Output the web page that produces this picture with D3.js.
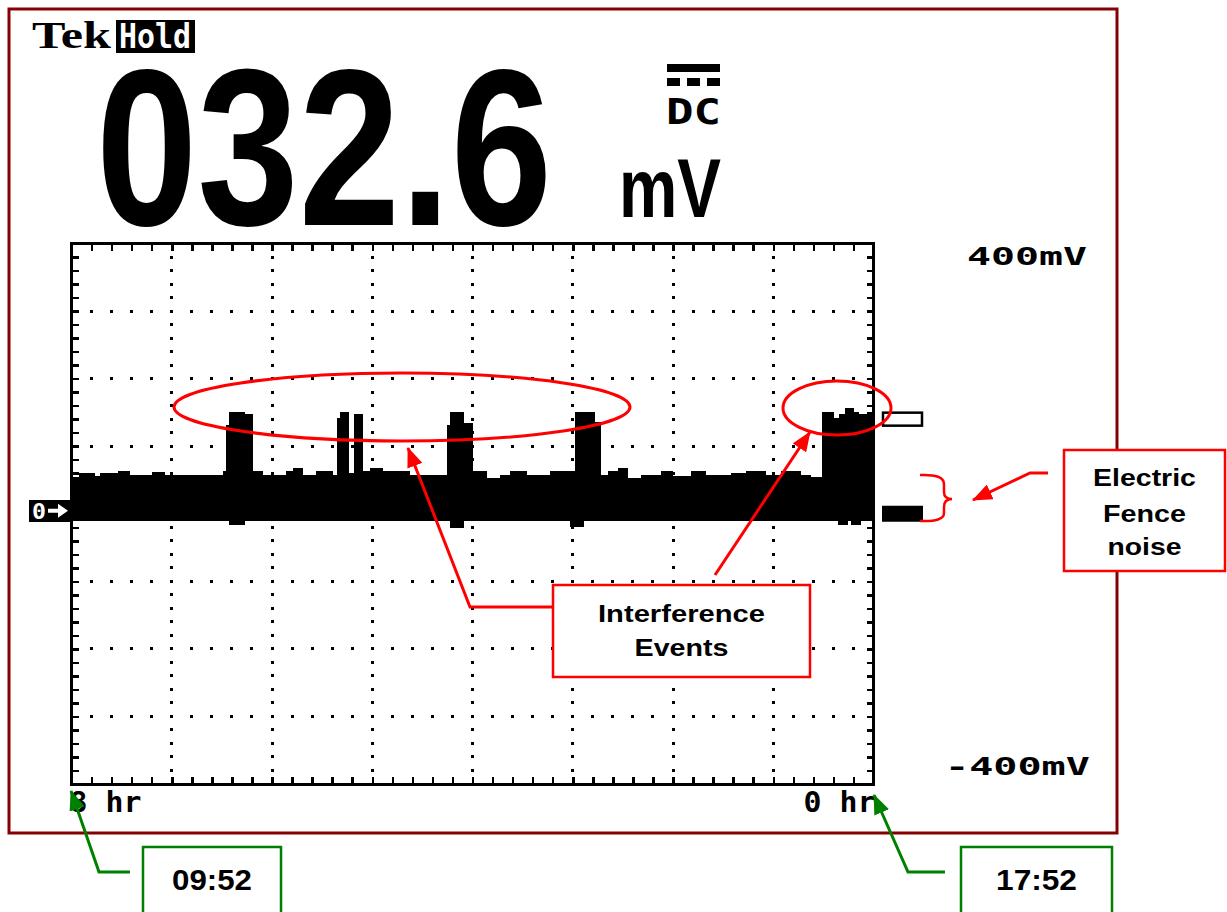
<!DOCTYPE html>
<html><head><meta charset="utf-8">
<script src="https://cdn.jsdelivr.net/npm/d3@7"></script>
<style>body{margin:0;background:#fff}svg{display:block}</style>
</head><body>
<svg id="c" width="1227" height="912"></svg>
<script>
// ---------- data ----------
// min/max envelope of the 8 hour roll record (hours before end, step segments)
const segStartHr = [8.000,7.925,7.767,7.717,7.537,7.417,7.198,7.068,6.718,6.488,6.458,6.428,6.269,6.189,6.089,5.859,5.789,5.689,5.559,5.390,5.353,5.320,5.227,5.187,5.093,5.020,4.890,4.620,4.254,4.221,4.088,3.994,3.851,3.721,3.621,3.452,3.222,3.032,2.982,2.892,2.782,2.722,2.652,2.552,2.453,2.323,2.123,2.003,1.823,1.673,1.424,1.274,1.074,0.924,0.724,0.624,0.517,0.395,0.358,0.345,0.285,0.258,0.225,0.195,0.145,0.125,0.065];
const segMaxMv   = [55,61,56,61,64,58,62,57,58,63,132,151,147,63,58,63,67,58,63,58,141,151,61,147,63,67,63,58,132,151,134,63,53,58,63,58,63,63,151,151,136,58,63,67,53,58,63,56,64,57,60,64,57,63,58,55,151,142,142,147,156,156,156,150,147,147,151];
const segMinMv   = [-11,-11,-11,-11,-11,-11,-11,-11,-11,-11,-11,-17,-11,-11,-11,-11,-11,-11,-11,-11,-11,-11,-11,-11,-11,-11,-11,-11,-11,-21,-11,-11,-11,-11,-11,-11,-11,-20,-20,-11,-11,-11,-11,-11,-11,-11,-11,-11,-11,-11,-11,-11,-11,-11,-11,-11,-11,-11,-16,-16,-16,-11,-16,-16,-16,-11,-11];
const xTickValues = [8, 0];
const xTickLabels = ["8 hr", "0 hr"];
const yTickValues = [400, -400];
const yTickLabels = ["400mV", "-400mV"];
const readingText = "032.6";
const readingUnit = "mV";
const couplingText = "DC";
const brandText = "Tek";
const holdText = "Hold";
const groundLevelMv = 0;
const cursorLevelMv = 140;
const startClock = "09:52";
const endClock = "17:52";
const eventLines = ["Interference", "Events"];
const noiseLines = ["Electric", "Fence", "noise"];

// ---------- setup ----------
const svg = d3.select("#c");
const x = d3.scaleLinear().domain([8, 0]).range([71.5, 873.5]);
const y = d3.scaleLinear().domain([-400, 400]).range([784, 243.5]);
const RED = "#ff0000", GREEN = "#008000", MAROON = "#850000";
const MONO = "'DejaVu Sans Mono', monospace";
const SANS = "'Liberation Sans', Arial, sans-serif";

// text scaled horizontally to a target ink width (anchor: start | middle | end)
function stext(parent, t, xx, yy, font, size, targetW, anchor, fill) {
  const el = parent.append("text").attr("font-family", font).attr("font-weight", "bold")
    .attr("font-size", size).attr("fill", fill || "#000").attr("text-anchor", anchor || "start").text(t);
  const w = el.node().getComputedTextLength() || targetW;
  el.attr("transform", `translate(${xx},${yy}) scale(${targetW / w},1)`);
  return el;
}

const defs = svg.append("defs");
function mkArrow(id, col) {
  defs.append("marker").attr("id", id).attr("markerUnits", "userSpaceOnUse")
    .attr("viewBox", "0 0 20 16").attr("refX", 19).attr("refY", 8)
    .attr("markerWidth", 20).attr("markerHeight", 16).attr("orient", "auto")
    .append("path").attr("d", "M0,0 L20,8 L0,16 Z").attr("fill", col);
}
mkArrow("ar", RED); mkArrow("ag", GREEN);

// outer frame
svg.append("rect").attr("x", 9).attr("y", 9).attr("width", 1108).attr("height", 824)
  .attr("fill", "none").attr("stroke", MAROON).attr("stroke-width", 3);

// header
stext(svg, brandText, 32, 47.5, "'Liberation Serif', serif", 37, 79, "start");
svg.append("rect").attr("x", 116).attr("y", 20).attr("width", 79).attr("height", 33).attr("fill", "#000");
stext(svg, holdText, 119, 47.5, MONO, 34, 72, "start", "#fff");

stext(svg, readingText, 96, 225, SANS, 222, 456, "start");
stext(svg, readingUnit, 619, 217, SANS, 84, 102, "start");
// DC coupling symbol
svg.append("rect").attr("x", 667).attr("y", 64).attr("width", 53).attr("height", 8).attr("fill", "#000");
[[667, 13], [687, 13], [707, 13]].forEach(d =>
  svg.append("rect").attr("x", d[0]).attr("y", 78).attr("width", d[1]).attr("height", 8).attr("fill", "#000"));
stext(svg, couplingText, 666, 123.5, MONO, 36, 55, "start");

// ---------- graticule ----------
const g = svg.append("g").attr("shape-rendering", "crispEdges");
const majX = d3.range(1, 8);
const majY = d3.range(-300, 400, 100);
const minX = d3.range(0, 40).map(i => +(i * 0.2).toFixed(1));
const minY = d3.range(-400, 401, 20);
majY.forEach(mv => minX.forEach(h =>
  g.append("rect").attr("x", x(h) - 1.5).attr("y", y(mv) - 1.5).attr("width", 3).attr("height", 3).attr("fill", "#000")));
majX.forEach(h => minY.forEach(mv =>
  g.append("rect").attr("x", x(h) - 1.5).attr("y", y(mv) - 1.5).attr("width", 3).attr("height", 3).attr("fill", "#000")));

function tickAxis(axis, tr) {
  const a = g.append("g").attr("transform", tr).call(axis);
  a.select(".domain").remove();
  a.selectAll("line").attr("stroke", "#000").attr("stroke-width", 2.5);
}
tickAxis(d3.axisBottom(x).tickValues(minX).tickSize(-7).tickFormat(""), `translate(0,${y(-400)})`);
tickAxis(d3.axisTop(x).tickValues(minX).tickSize(-7).tickFormat(""), `translate(0,${y(400)})`);
tickAxis(d3.axisLeft(y).tickValues(minY).tickSize(-7).tickFormat(""), `translate(${x(8)},0)`);
tickAxis(d3.axisRight(y).tickValues(minY).tickSize(-7).tickFormat(""), `translate(${x(0)},0)`);

// ---------- trace ----------
const pts = segStartHr.map((h, i) => ({h, hi: segMaxMv[i], lo: segMinMv[i]}));
pts.push({h: 0, hi: segMaxMv[segMaxMv.length - 1], lo: segMinMv[segMinMv.length - 1]});
const area = d3.area().x(d => x(d.h)).y0(d => y(d.lo)).y1(d => y(d.hi)).curve(d3.curveStepAfter);
g.append("path").datum(pts).attr("d", area).attr("fill", "#000");

g.append("rect").attr("x", x(8)).attr("y", y(400)).attr("width", x(0) - x(8)).attr("height", y(-400) - y(400))
  .attr("fill", "none").attr("stroke", "#000").attr("stroke-width", 3);

// ground marker (left)
const gy = y(groundLevelMv);
svg.append("rect").attr("x", 29).attr("y", gy - 14).attr("width", 41).attr("height", 22).attr("fill", "#000").attr("shape-rendering", "crispEdges");
stext(svg, "0", 32, gy + 5, MONO, 21, 14, "start", "#fff");
svg.append("path").attr("d", `M48,${gy - 5} H58 V${gy - 10} L68,${gy - 3} L58,${gy + 4} V${gy - 1} H48 Z`).attr("fill", "#fff");

// right level markers
svg.append("rect").attr("x", 882).attr("y", y(groundLevelMv) - 8).attr("width", 41).attr("height", 16).attr("fill", "#000");
svg.append("rect").attr("x", 883).attr("y", y(cursorLevelMv) - 6.5).attr("width", 39).attr("height", 13)
  .attr("fill", "none").attr("stroke", "#000").attr("stroke-width", 2.5);

// scale labels
stext(svg, yTickLabels[0], 967, y(yTickValues[0]) + 21.5, MONO, 24, 120, "start");
stext(svg, yTickLabels[1], 945, y(yTickValues[1]) - 9, MONO, 24, 145, "start");
stext(svg, xTickLabels[0], x(xTickValues[0]) - 2, 811.5, MONO, 29, 72, "start");
stext(svg, xTickLabels[1], x(xTickValues[1]) + 2, 811.5, MONO, 29, 72, "end");

// ---------- annotations ----------
const ann = svg.append("g");
ann.append("ellipse").attr("cx", 402).attr("cy", 407).attr("rx", 228).attr("ry", 34)
  .attr("fill", "none").attr("stroke", RED).attr("stroke-width", 3);
ann.append("ellipse").attr("cx", 837).attr("cy", 408).attr("rx", 54).attr("ry", 27)
  .attr("fill", "none").attr("stroke", RED).attr("stroke-width", 3);

ann.append("path").attr("d", "M553,607 H470 L408,448").attr("fill", "none").attr("stroke", RED)
  .attr("stroke-width", 3).attr("marker-end", "url(#ar)");
ann.append("path").attr("d", "M715,575 L810,432").attr("fill", "none").attr("stroke", RED)
  .attr("stroke-width", 3).attr("marker-end", "url(#ar)");
ann.append("path").attr("d", "M920,475 Q944,474 944,484 V492 Q944,499 952,499 Q944,499 944,507 V513 Q944,522 920,521")
  .attr("fill", "none").attr("stroke", RED).attr("stroke-width", 2.5);
ann.append("path").attr("d", "M1048,473 H1030 L973,500").attr("fill", "none").attr("stroke", RED)
  .attr("stroke-width", 3).attr("marker-end", "url(#ar)");

function box(x0, y0, w, h, col, lines, baselines, lens, fs) {
  ann.append("rect").attr("x", x0).attr("y", y0).attr("width", w).attr("height", h)
    .attr("fill", "#fff").attr("stroke", col).attr("stroke-width", 2.5);
  lines.forEach((t, i) => stext(ann, t, x0 + w / 2, baselines[i], SANS, fs, lens[i], "middle"));
}
box(553, 585, 257, 92, RED, eventLines, [622, 656], [167, 94], 24);
box(1064, 450, 161, 121, RED, noiseLines, [486, 521.5, 555], [103, 83, 74], 24);

ann.append("path").attr("d", "M130,872 H99 L71,791").attr("fill", "none").attr("stroke", GREEN)
  .attr("stroke-width", 3).attr("marker-end", "url(#ag)");
ann.append("path").attr("d", "M945,872 H908 L874,795").attr("fill", "none").attr("stroke", GREEN)
  .attr("stroke-width", 3).attr("marker-end", "url(#ag)");
box(143, 847, 138, 90, GREEN, [startClock], [890], [80], 30);
box(961, 847, 151, 90, GREEN, [endClock], [890], [81], 30);
</script>
</body></html>
